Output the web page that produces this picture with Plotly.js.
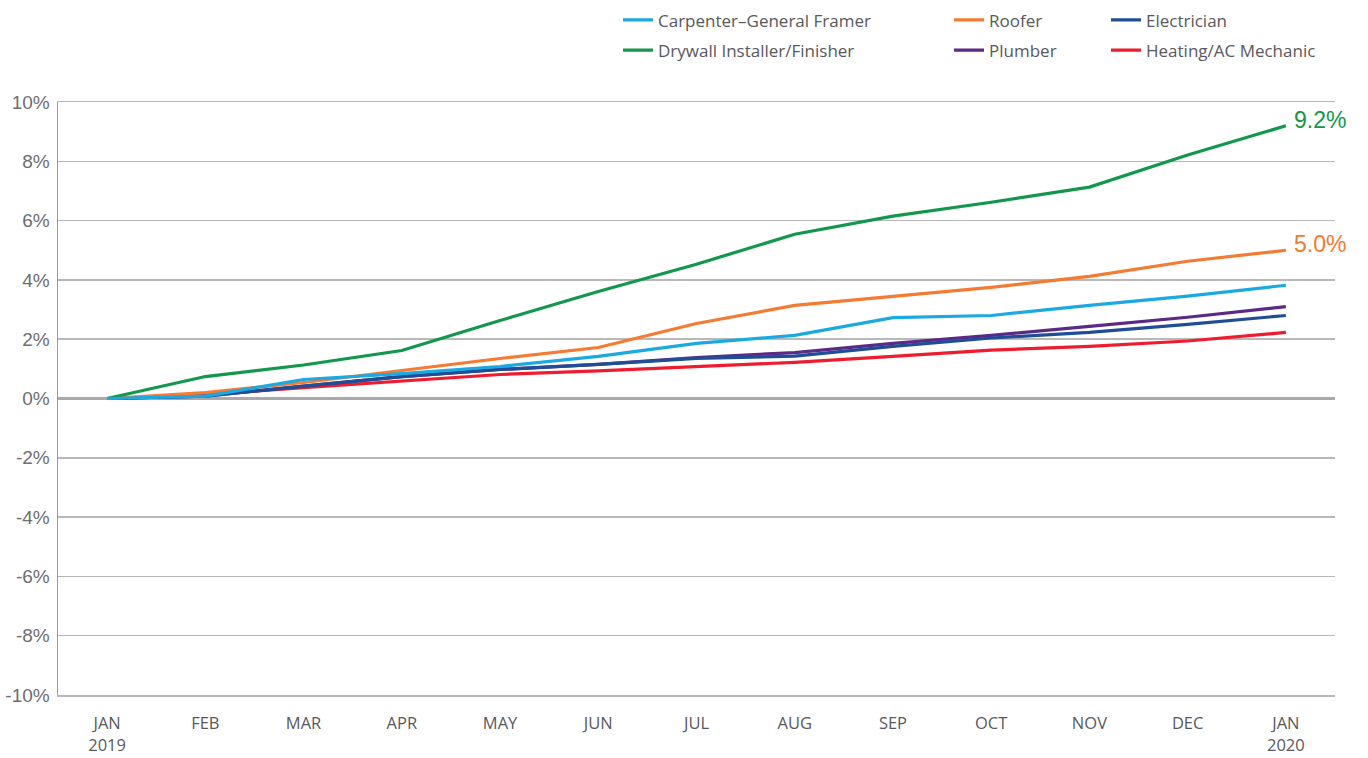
<!DOCTYPE html>
<html>
<head>
<meta charset="utf-8">
<script src="https://cdn.plot.ly/plotly-3.0.1.min.js"></script>
<style>html,body{margin:0;padding:0;background:#fff;}#chart{width:1368px;height:758px;}</style>
</head>
<body>
<div id="chart"></div>
<script>
// Month tick labels (Jan 2019 – Jan 2020)
const monthLabels = ['JAN<br>2019','FEB','MAR','APR','MAY','JUN','JUL','AUG','SEP','OCT','NOV','DEC','JAN<br>2020'];

// Cumulative wage change since Jan 2019, in percent
const carpenter   = [0, 0.08, 0.64, 0.84, 1.08, 1.42, 1.86, 2.13, 2.73, 2.80, 3.14, 3.45, 3.82];
const roofer      = [0, 0.20, 0.54, 0.95, 1.35, 1.72, 2.53, 3.14, 3.45, 3.75, 4.12, 4.63, 5.00];
const electrician = [0, 0.08, 0.42, 0.74, 0.98, 1.15, 1.35, 1.43, 1.76, 2.04, 2.23, 2.50, 2.80];
const drywall     = [0, 0.74, 1.13, 1.62, 2.63, 3.61, 4.53, 5.54, 6.15, 6.62, 7.13, 8.21, 9.20];
const plumber     = [0, 0.08, 0.42, 0.74, 0.98, 1.15, 1.38, 1.55, 1.86, 2.13, 2.43, 2.74, 3.10];
const heatingAC   = [0, 0.12, 0.37, 0.60, 0.81, 0.93, 1.08, 1.22, 1.42, 1.63, 1.76, 1.94, 2.23];

const yTicks = [-10, -8, -6, -4, -2, 0, 2, 4, 6, 8, 10];

const xIdx = monthLabels.map((_, i) => i);

function mk(name, y, color, legend, rank) {
  return {
    type: 'scatter', mode: 'lines', name: name, x: xIdx, y: y,
    line: {color: color, width: 3.2},
    legend: legend, legendgroup: name, legendrank: rank,
    hoverinfo: 'skip'
  };
}

const COL = {
  carpenter: '#1ba9e1', roofer: '#f47b31', electrician: '#1f4e96',
  drywall: '#11984a', plumber: '#5b2a86', heating: '#ee1c2e'
};

const traces = [
  mk('Heating/AC Mechanic', heatingAC, COL.heating, 'legend3', 2),
  mk('Plumber', plumber, COL.plumber, 'legend2', 2),
  mk('Electrician', electrician, COL.electrician, 'legend3', 1),
  mk('Roofer', roofer, COL.roofer, 'legend2', 1),
  mk('Drywall Installer/Finisher', drywall, COL.drywall, 'legend', 2),
  mk('Carpenter\u2013General Framer', carpenter, COL.carpenter, 'legend', 1)
];

const legFont = {family: 'Open Sans, sans-serif', size: 17, color: '#58595b'};
function leg(x) {
  return {
    x: x, y: 1.168, xanchor: 'left', yanchor: 'top', orientation: 'v',
    font: legFont, bgcolor: 'rgba(0,0,0,0)', borderwidth: 0,
    traceorder: 'grouped', tracegroupgap: 5, itemclick: false, itemdoubleclick: false
  };
}

const last = a => a[a.length - 1];

const layout = {
  width: 1368, height: 758,
  margin: {l: 58, r: 33, t: 102, b: 63, autoexpand: false},
  paper_bgcolor: '#ffffff', plot_bgcolor: '#ffffff',
  showlegend: true,
  legend: leg((618 - 58) / 1277),
  legend2: leg((949 - 58) / 1277),
  legend3: leg((1106 - 58) / 1277),
  xaxis: {
    range: [-0.5, 12.5],
    tickvals: xIdx, ticktext: monthLabels,
    tickfont: {family: 'Open Sans, sans-serif', size: 16.5, color: '#58595b'},
    ticks: '', showgrid: false, zeroline: false,
    showline: true, linecolor: '#b8b8b8', linewidth: 1.5, mirror: true,
    ticklabelstandoff: 13, fixedrange: true
  },
  yaxis: {
    range: [-10, 10],
    tickvals: yTicks, ticktext: yTicks.map(v => v + '%'),
    tickfont: {family: 'Liberation Sans, Arial, sans-serif', size: 19, color: '#6d6e71'},
    ticks: '', showgrid: true, gridcolor: '#b8b8b8', gridwidth: 1.5,
    zeroline: true, zerolinecolor: '#a9a9ab', zerolinewidth: 2.5,
    showline: true, linecolor: '#9a9a9a', linewidth: 1.5,
    ticklabelstandoff: 3, fixedrange: true
  },
  annotations: [
    {x: 12, y: last(drywall), xref: 'x', yref: 'y', xanchor: 'left', yanchor: 'middle', xshift: 6, yshift: 6,
     text: last(drywall).toFixed(1) + '%', showarrow: false,
     font: {family: 'Liberation Sans, Arial, sans-serif', size: 23, color: COL.drywall}},
    {x: 12, y: last(roofer), xref: 'x', yref: 'y', xanchor: 'left', yanchor: 'middle', xshift: 6, yshift: 6,
     text: last(roofer).toFixed(1) + '%', showarrow: false,
     font: {family: 'Liberation Sans, Arial, sans-serif', size: 23, color: COL.roofer}}
  ]
};

Plotly.newPlot('chart', traces, layout, {displayModeBar: false, staticPlot: true});
</script>
</body>
</html>
